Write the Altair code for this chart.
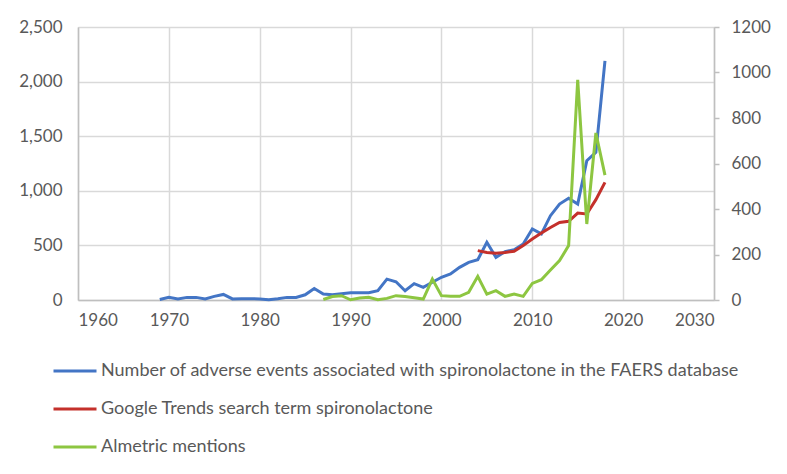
import altair as alt
import pandas as pd

# Number of adverse events (FAERS), left axis
faers_years = list(range(1969, 2019))
faers_values = [5, 24, 10, 24, 24, 10, 33, 51, 10, 12,
                12, 10, 2, 12, 24, 24, 48, 106, 55, 48,
                58, 67, 67, 67, 85, 191, 167, 85, 150, 116,
                162, 208, 238, 299, 345, 369, 528, 391, 443, 461,
                513, 650, 605, 772, 879, 931, 879, 1276, 1352, 2190]

# Google Trends, right axis
google_years = list(range(2004, 2019))
google_values = [217, 209, 205, 209, 214, 239, 268, 294, 319, 341, 346, 382, 378, 441, 517]

# Almetric mentions, right axis
alm_years = list(range(1987, 2019))
alm_values = [2, 15, 19, 1, 9, 12, 1, 7, 19, 15, 10, 4,
              92, 19, 16, 16, 34, 104, 26, 41, 16, 26, 16, 73,
              89, 132, 173, 239, 968, 334, 734, 549]

S1 = "Number of adverse events associated with spironolactone in the FAERS database"
S2 = "Google Trends search term spironolactone"
S3 = "Almetric mentions"
series_names = [S1, S2, S3]
series_colors = ["#4375C5", "#C4302B", "#8DC641"]

left_df = pd.DataFrame({"year": faers_years, "value": faers_values, "series": S1})
right_df = pd.concat([
    pd.DataFrame({"year": google_years, "value": google_values, "series": S2}),
    pd.DataFrame({"year": alm_years, "value": alm_values, "series": S3}),
])

FONT = "Lato"
LABEL_COLOR = "#595959"
GRID = "#D9D9D9"
DOMAIN = "#BFBFBF"

color = alt.Color(
    "series:N",
    scale=alt.Scale(domain=series_names, range=series_colors),
    sort=series_names,
    legend=alt.Legend(
        title=None,
        orient="none",
        legendX=-26,
        legendY=321,
        direction="vertical",
        symbolType="stroke",
        symbolSize=1849,
        symbolStrokeWidth=3,
        labelFontSize=18,
        labelFont=FONT,
        labelColor=LABEL_COLOR,
        labelOffset=3,
        rowPadding=6,
        labelLimit=800,
    ),
)

x = alt.X(
    "year:Q",
    scale=alt.Scale(domain=[1960, 2030], nice=False),
    axis=alt.Axis(
        title=None, values=list(range(1960, 2031, 10)), format="d",
        grid=True, gridColor=GRID, gridWidth=1.5, ticks=False,
        domainColor=DOMAIN, domainWidth=1.5,
        labelFont=FONT, labelFontSize=17, labelColor=LABEL_COLOR, labelPadding=12,
    ),
)

left = alt.Chart(left_df).mark_line(strokeWidth=3).encode(
    x=x,
    y=alt.Y(
        "value:Q",
        scale=alt.Scale(domain=[0, 2500], nice=False),
        axis=alt.Axis(
            title=None, values=[0, 500, 1000, 1500, 2000, 2500], format=",d",
            grid=True, gridColor=GRID, gridWidth=1.5, ticks=False,
            domainColor=DOMAIN, domainWidth=1.5,
            labelFont=FONT, labelFontSize=17, labelColor=LABEL_COLOR, labelPadding=16,
        ),
    ),
    color=color,
)

right = alt.Chart(right_df).mark_line(strokeWidth=3).encode(
    x=x,
    y=alt.Y(
        "value:Q",
        scale=alt.Scale(domain=[0, 1200], nice=False),
        axis=alt.Axis(
            title=None, orient="right", values=[0, 200, 400, 600, 800, 1000, 1200], format="d",
            grid=False, ticks=True, tickSize=5, tickColor=DOMAIN, tickWidth=1.5,
            domainColor=DOMAIN, domainWidth=1.5,
            labelFont=FONT, labelFontSize=17, labelColor=LABEL_COLOR, labelPadding=12,
        ),
    ),
    color=color,
    detail="series:N",
)

chart = alt.layer(left, right).resolve_scale(y="independent").properties(
    width=636,
    height=273,
    autosize=alt.AutoSizeParams(type="none"),
    padding={"left": 70, "top": 19, "right": 65, "bottom": 166},
).configure_view(stroke=None).configure(background="white")

chart.save("out.html", embed_options={"renderer": "svg", "actions": False})
